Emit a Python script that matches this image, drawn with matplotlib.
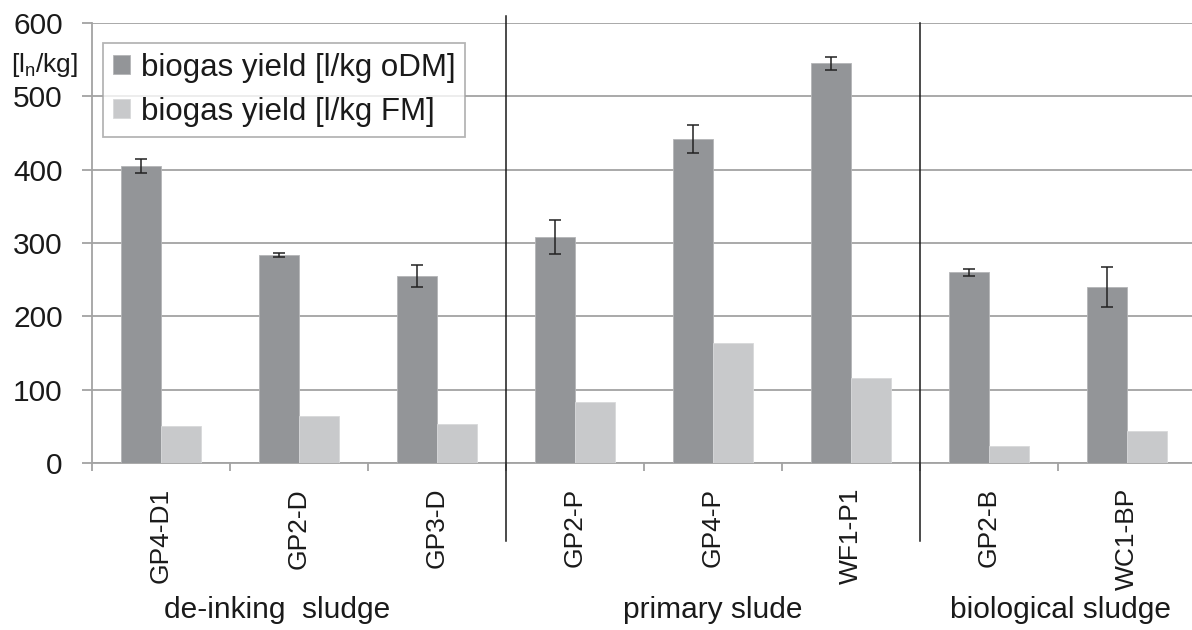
import matplotlib
matplotlib.use("Agg")
import matplotlib.pyplot as plt
import matplotlib.transforms as mtransforms
import numpy as np

plt.rcParams['font.family'] = ['Liberation Sans', 'DejaVu Sans']

# Samples and measured yields
samples = ["GP4-D1", "GP2-D", "GP3-D", "GP2-P", "GP4-P", "WF1-P1", "GP2-B", "WC1-BP"]
yield_odm = [405, 284, 255, 308, 442, 545, 260, 240]          # l/kg oDM
yield_odm_err = [10, 2.5, 14.5, 23, 19.5, 9, 4.5, 27.5]
yield_fm = [51, 64, 53, 83, 164, 116, 23, 44]                  # l/kg FM

groups = ["de-inking  sludge", "primary slude", "biological sludge"]
group_sizes = [3, 3, 2]
group_label_x = [1.34, 4.5, 7.02]

dark = "#939598"
light = "#c8c9cb"
grid_c = "#a3a3a3"

W, H = 1192, 630
fig = plt.figure(figsize=(W / 100, H / 100), dpi=100)
ax = fig.add_axes([92 / W, 1 - 463 / H, 1104 / W, 440 / H])

x = np.arange(len(samples)) + 0.5
bw = 0.29
ax.bar(x - bw / 2, yield_odm, bw, color=dark, edgecolor="#b4b5b7", linewidth=0.6,
       label="biogas yield [l/kg oDM]", zorder=3)
ax.bar(x + bw / 2, yield_fm, bw, color=light, edgecolor="#d8d9da", linewidth=0.6,
       label="biogas yield [l/kg FM]", zorder=3)
ax.errorbar(x - bw / 2, yield_odm, yerr=yield_odm_err, fmt="none", ecolor="#222222",
            elinewidth=1.1, capsize=4.6, capthick=1.1, zorder=4)

ax.set_xlim(0, len(samples))
ax.set_ylim(0, 600)
ax.set_yticks(np.arange(0, 601, 100))
ax.yaxis.grid(True, color=grid_c, linewidth=1.3, zorder=0)
ax.set_axisbelow(True)

for s in ["top", "right"]:
    ax.spines[s].set_visible(False)
for s in ["left", "bottom"]:
    ax.spines[s].set_color(grid_c)
    ax.spines[s].set_linewidth(1.3)

ax.tick_params(axis="y", length=7, width=1.3, color=grid_c, pad=14,
               labelsize=21.5, labelcolor="#1a1a1a")
ax.set_xticks(x)
ax.set_xticklabels(samples, rotation=90, fontsize=19, color="#1a1a1a", va="top")
ax.tick_params(axis="x", which="major", length=0, pad=18)
ax.set_xticks(np.arange(0, len(samples) + 1), minor=True)
ax.tick_params(axis="x", which="minor", length=6, width=1.3, color=grid_c)

# group separators and group names
trans = mtransforms.blended_transform_factory(ax.transData, ax.transAxes)
bounds = np.cumsum(group_sizes)[:-1]
tops = [1.016, 1.0]
for b, t in zip(bounds, tops):
    ax.plot([b, b], [-0.178, t], color="#1a1a1a", linewidth=1.1,
            transform=trans, clip_on=False, zorder=5)
for name, gx in zip(groups, group_label_x):
    ax.text(gx, -0.335, name, transform=trans, ha="center", va="center",
            fontsize=21.5, color="#1a1a1a")

leg = ax.legend(loc="upper left", bbox_to_anchor=(0.0097, 0.955), fontsize=22.5,
                frameon=True, fancybox=False, handlelength=0.55, handleheight=0.55,
                handletextpad=0.35, borderpad=0.32, labelspacing=0.45,
                borderaxespad=0)
leg.get_frame().set_edgecolor(grid_c)
leg.get_frame().set_linewidth(1.3)
for t in leg.get_texts():
    t.set_color("#1a1a1a")

fig.text(45 / W, 1 - 65 / H, r"[l$_\mathregular{n}$/kg]", ha="center", va="center",
         fontsize=19, color="#1a1a1a")

fig.savefig("out.png", dpi=100)
